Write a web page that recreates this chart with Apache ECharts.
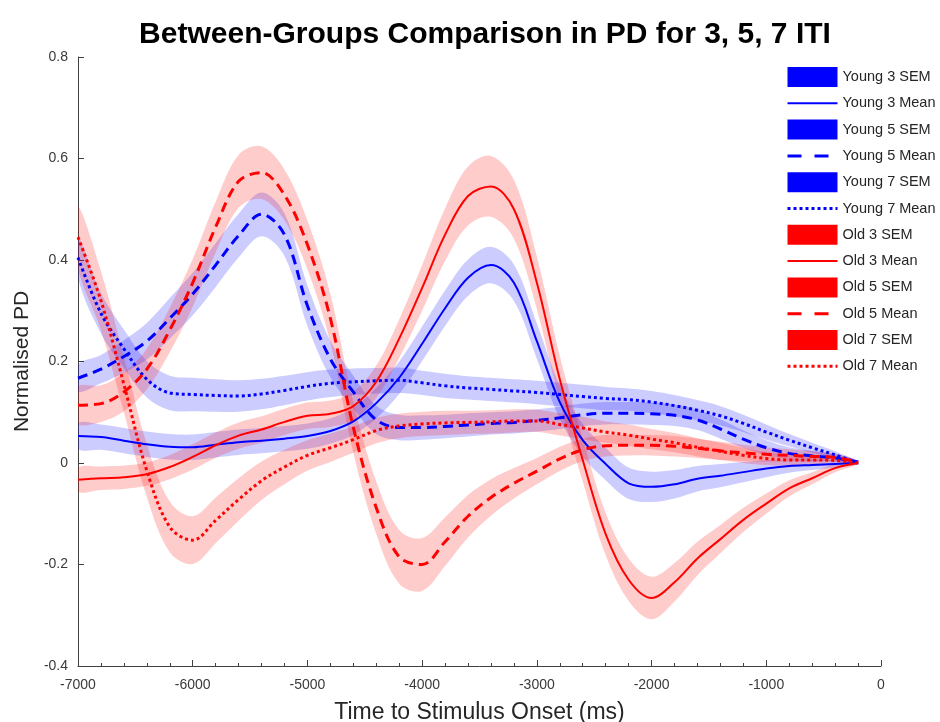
<!DOCTYPE html>
<html>
<head>
<meta charset="utf-8">
<script src="https://cdn.jsdelivr.net/npm/echarts@6/dist/echarts.min.js"></script>
<style>html,body{margin:0;padding:0;background:#fff}#c{width:940px;height:722px}</style>
</head>
<body>
<div id="c"></div>
<script>
// Time grid (ms)
const T = [-7000,-6800,-6600,-6400,-6200,-6000,-5800,-5600,-5400,-5200,-5000,-4800,-4600,-4400,-4200,-4000,-3800,-3600,-3400,-3200,-3000,-2800,-2600,-2400,-2200,-2000,-1800,-1600,-1400,-1200,-1000,-800,-600,-400,-200];

// Young 3
const meanY3 = [0.053,0.051,0.044,0.037,0.032,0.031,0.036,0.041,0.044,0.048,0.053,0.063,0.082,0.118,0.168,0.235,0.305,0.365,0.39,0.355,0.24,0.12,0.045,-0.002,-0.04,-0.047,-0.042,-0.031,-0.025,-0.018,-0.011,-0.006,-0.004,-0.002,0.0];
const semY3 = [0.025,0.025,0.025,0.025,0.025,0.025,0.025,0.025,0.025,0.025,0.025,0.025,0.027,0.03,0.032,0.034,0.035,0.036,0.036,0.036,0.035,0.033,0.032,0.032,0.031,0.03,0.028,0.025,0.023,0.02,0.017,0.013,0.01,0.007,0.003];
// Young 5
const meanY5 = [0.167,0.185,0.21,0.24,0.285,0.333,0.39,0.448,0.49,0.45,0.31,0.205,0.14,0.085,0.07,0.07,0.072,0.075,0.078,0.08,0.084,0.089,0.095,0.098,0.098,0.097,0.094,0.085,0.067,0.047,0.03,0.019,0.014,0.01,0.002];
const semY5 = [0.026,0.028,0.032,0.036,0.04,0.042,0.043,0.043,0.043,0.042,0.04,0.036,0.032,0.028,0.025,0.024,0.023,0.023,0.022,0.022,0.022,0.022,0.022,0.022,0.022,0.022,0.021,0.02,0.019,0.017,0.015,0.012,0.01,0.007,0.003];
// Young 7
const meanY7 = [0.405,0.295,0.225,0.165,0.138,0.135,0.133,0.132,0.136,0.143,0.151,0.157,0.16,0.162,0.163,0.158,0.152,0.148,0.145,0.142,0.139,0.135,0.131,0.127,0.125,0.12,0.113,0.104,0.093,0.078,0.061,0.045,0.03,0.016,0.0];
const semY7 = [0.04,0.04,0.038,0.036,0.034,0.033,0.032,0.031,0.03,0.029,0.028,0.027,0.026,0.025,0.025,0.024,0.024,0.023,0.023,0.023,0.023,0.023,0.023,0.023,0.022,0.022,0.021,0.02,0.019,0.017,0.015,0.012,0.01,0.007,0.003];
// Old 3
const meanO3 = [-0.033,-0.03,-0.028,-0.022,-0.008,0.012,0.035,0.054,0.066,0.081,0.093,0.097,0.112,0.16,0.245,0.345,0.45,0.526,0.545,0.5,0.355,0.165,0.006,-0.14,-0.23,-0.266,-0.235,-0.188,-0.15,-0.112,-0.08,-0.05,-0.03,-0.01,0.0];
const semO3 = [0.023,0.023,0.023,0.023,0.024,0.025,0.025,0.026,0.026,0.026,0.026,0.026,0.028,0.032,0.038,0.045,0.052,0.058,0.06,0.058,0.052,0.046,0.043,0.042,0.042,0.042,0.038,0.033,0.028,0.024,0.02,0.016,0.012,0.008,0.003];
// Old 5
const meanO5 = [0.114,0.117,0.14,0.185,0.262,0.355,0.465,0.555,0.572,0.528,0.43,0.285,0.07,-0.088,-0.185,-0.2,-0.155,-0.105,-0.068,-0.04,-0.016,0.008,0.026,0.034,0.035,0.035,0.033,0.029,0.024,0.02,0.017,0.015,0.013,0.011,0.002];
const semO5 = [0.036,0.036,0.038,0.04,0.044,0.047,0.05,0.052,0.052,0.05,0.048,0.048,0.05,0.052,0.053,0.052,0.048,0.042,0.036,0.03,0.026,0.024,0.022,0.021,0.02,0.02,0.02,0.019,0.018,0.016,0.014,0.012,0.01,0.007,0.003];
// Old 7
const meanO7 = [0.445,0.32,0.155,-0.015,-0.126,-0.152,-0.113,-0.072,-0.035,-0.008,0.015,0.03,0.046,0.064,0.073,0.077,0.079,0.08,0.081,0.083,0.083,0.076,0.069,0.061,0.055,0.047,0.04,0.031,0.023,0.015,0.009,0.006,0.006,0.005,0.0];
const semO7 = [0.06,0.058,0.055,0.052,0.05,0.047,0.045,0.042,0.038,0.034,0.03,0.028,0.026,0.025,0.024,0.024,0.024,0.023,0.023,0.023,0.022,0.022,0.022,0.021,0.021,0.02,0.019,0.018,0.017,0.015,0.013,0.011,0.009,0.006,0.003];

const xTicks = {min: -7000, max: 0, step: 1000};
const yTicks = {min: -0.4, max: 0.8, step: 0.2};

const groups = [
  {name: 'Young 3', mean: meanY3, sem: semY3, color: '#0000ff', type: 'solid', width: 2, legendType: 'solid'},
  {name: 'Young 5', mean: meanY5, sem: semY5, color: '#0000ff', type: [10, 6], width: 3, legendType: [14, 13]},
  {name: 'Young 7', mean: meanY7, sem: semY7, color: '#0000ff', type: [3, 3], width: 3, legendType: [3, 3]},
  {name: 'Old 3', mean: meanO3, sem: semO3, color: '#ff0000', type: 'solid', width: 2, legendType: 'solid'},
  {name: 'Old 5', mean: meanO5, sem: semO5, color: '#ff0000', type: [10, 6], width: 3, legendType: [14, 13]},
  {name: 'Old 7', mean: meanO7, sem: semO7, color: '#ff0000', type: [3, 3], width: 3, legendType: [3, 3]}
];

const SMOOTH = 0.35;
const series = [];
const legendData = [];
groups.forEach((g, gi) => {
  series.push({
    name: g.name + ' SEM', type: 'custom', coordinateSystem: 'cartesian2d', clip: true,
    data: T.map((t, i) => [t, g.mean[i] - g.sem[i], g.mean[i] + g.sem[i]]),
    encode: {x: 0, y: [1, 2]},
    itemStyle: {color: g.color},
    silent: true, z: 2,
    renderItem: function (params, api) {
      if (params.dataIndex !== 0) return null;
      const upper = T.map((t, i) => api.coord([t, g.mean[i] + g.sem[i]]));
      const lower = T.map((t, i) => api.coord([t, g.mean[i] - g.sem[i]])).reverse();
      return {
        type: 'polygon',
        shape: {points: upper.concat(lower), smooth: SMOOTH},
        style: {fill: g.color, opacity: 0.2}
      };
    }
  });
  series.push({
    name: g.name + ' Mean', type: 'line',
    data: T.map((t, i) => [t, g.mean[i]]),
    symbol: 'none', smooth: SMOOTH,
    lineStyle: {color: g.color, width: g.width, type: g.type, cap: 'butt'},
    itemStyle: {color: g.color}, silent: true, z: 3
  });
  legendData.push({name: g.name + ' SEM', icon: 'rect', itemStyle: {color: g.color, opacity: 1, borderWidth: 0}});
  legendData.push({name: g.name + ' Mean', itemStyle: {opacity: 0}, lineStyle: {color: g.color, width: g.width, type: g.legendType, opacity: 1}});
});

const axisColor = '#404040';
const fontFam = '"Liberation Sans", Arial, Helvetica, sans-serif';

const chart = echarts.init(document.getElementById('c'), null, {renderer: 'canvas'});
chart.setOption({
  animation: false,
  backgroundColor: '#ffffff',
  title: {
    text: 'Between-Groups Comparison in PD for 3, 5, 7 ITI',
    left: 480, top: 15, textAlign: 'center',
    textStyle: {fontFamily: fontFam, fontSize: 30, fontWeight: 'bold', color: '#000'}
  },
  grid: {left: 78, right: 59, top: 57, bottom: 56, containLabel: false, outerBoundsMode: 'none'},
  legend: {
    data: legendData, orient: 'vertical', left: 786, top: 67,
    itemWidth: 50, itemHeight: 20, itemGap: 8.3, selectedMode: false,
    textStyle: {fontFamily: fontFam, fontSize: 14.5, color: '#262626'}, padding: 0
  },
  xAxis: {
    type: 'value', min: xTicks.min, max: xTicks.max, interval: xTicks.step,
    name: 'Time to Stimulus Onset (ms)', nameLocation: 'middle', nameGap: 35,
    nameTextStyle: {fontFamily: fontFam, fontSize: 23, color: '#262626'},
    axisLine: {show: true, onZero: false, lineStyle: {color: axisColor, width: 1}},
    axisTick: {show: true, inside: true, length: 6, lineStyle: {color: axisColor}},
    minorTick: {show: true, splitNumber: 5, length: 3, lineStyle: {color: axisColor}},
    axisLabel: {fontFamily: fontFam, fontSize: 14, color: '#3a3a3a', margin: 12, formatter: v => String(v)},
    splitLine: {show: false}
  },
  yAxis: {
    type: 'value', min: yTicks.min, max: yTicks.max, interval: yTicks.step,
    name: 'Normalised PD', nameLocation: 'middle', nameGap: 44,
    nameTextStyle: {fontFamily: fontFam, fontSize: 21, color: '#262626'},
    axisLine: {show: true, onZero: false, lineStyle: {color: axisColor, width: 1}},
    axisTick: {show: true, inside: true, length: 6, lineStyle: {color: axisColor}},
    axisLabel: {fontFamily: fontFam, fontSize: 14, color: '#3a3a3a', margin: 10,
      formatter: v => String(Math.round(v * 10) / 10)},
    splitLine: {show: false}
  },
  series: series
});
</script>
</body>
</html>
